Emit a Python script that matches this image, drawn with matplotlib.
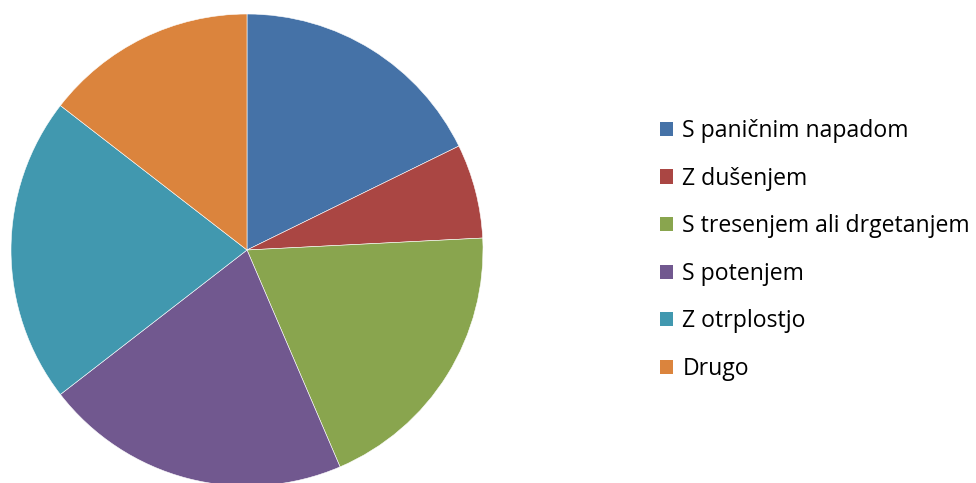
import matplotlib
matplotlib.use("Agg")
import matplotlib.pyplot as plt
from matplotlib.patches import Rectangle

categories = ["S paničnim napadom", "Z dušenjem", "S tresenjem ali drgetanjem",
              "S potenjem", "Z otrplostjo", "Drugo"]
values = [11, 4, 12, 13, 13, 9]
colors = ["#4572A7", "#AA4643", "#89A54E", "#71588F", "#4198AF", "#DB843D"]

W, H = 976, 483
fig = plt.figure(figsize=(W / 100, H / 100), dpi=100)
cx, cy, r = 247, 250, 236
ax = fig.add_axes([(cx - r) / W, (H - cy - r) / H, 2 * r / W, 2 * r / H])
ax.pie(values, colors=colors, startangle=90, counterclock=False, radius=1,
       wedgeprops=dict(edgecolor="white", linewidth=0.4))
ax.set_xlim(-1, 1)
ax.set_ylim(-1, 1)
ax.set_aspect("equal")
ax.axis("off")

handles = [Rectangle((0, 0), 1, 1, facecolor=c, edgecolor="none") for c in colors]
fig.legend(handles, categories, loc="center left",
           bbox_to_anchor=(660 / W, 1 - 250 / H), frameon=False,
           prop=dict(family="Open Sans", size=16.6),
           handlelength=0.57, handleheight=0.57, handletextpad=0.4,
           labelspacing=1.02, borderaxespad=0, borderpad=0)

fig.savefig("out.png", dpi=100, facecolor="white")
